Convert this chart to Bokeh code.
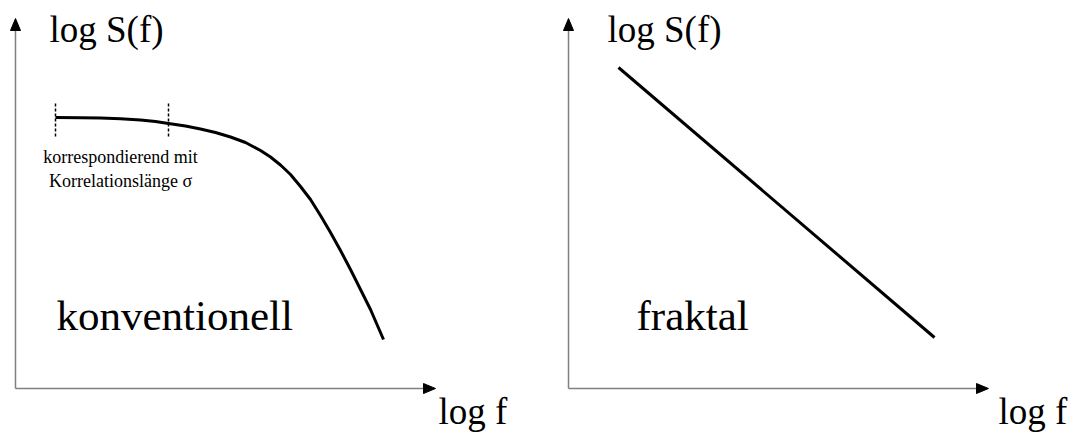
from bokeh.plotting import figure
from bokeh.models import Range1d, Label
from bokeh.embed import file_html
from bokeh.resources import INLINE

W, H = 1071, 432
SERIF = "Liberation Serif"

# Conventional spectrum: flat plateau, then rolling off (log f, log S in sheet units)
conv_log_f = [55, 80, 100, 120, 140, 155, 168, 185, 200, 215, 230, 245, 260, 270,
              280, 290, 300, 310, 320, 330, 340, 350, 360, 370, 383]
conv_log_s = [117, 117.3, 117.6, 118.3, 119.5, 121, 123, 125.5, 128.5, 132, 136.5, 142,
              150, 156.5, 164.5, 174, 186, 199, 215, 232, 250, 269, 289, 309, 339]

# Fractal spectrum: straight power law
frac_log_f = [618, 934]
frac_log_s = [67, 337]

# Markers bounding the correlation-length region
marker_f = [55, 168]
marker_top = [103, 103]
marker_bottom = [138, 138]

# Axes of both panels: origin and arrow tips
axis_origin_x = [15, 568]
axis_origin_y = [388, 388]
axis_top_y = [18, 18]
axis_right_x = [435, 988]

HEAD_LEN, HEAD_HALF = 12, 5

p = figure(width=W, height=H, output_backend="svg", toolbar_location=None,
           x_range=Range1d(0, W), y_range=Range1d(H, 0),
           x_axis_location=None, y_axis_location=None, min_border=0)
p.grid.visible = False
p.outline_line_color = None

# Axis shafts (grey) and filled black arrow heads
for ox, oy, ty, rx in zip(axis_origin_x, axis_origin_y, axis_top_y, axis_right_x):
    p.segment(x0=[ox, ox], y0=[oy, oy], x1=[ox, rx - HEAD_LEN], y1=[ty + HEAD_LEN, oy],
              line_color="#808080", line_width=1.5)
    p.patches(xs=[[ox, ox - HEAD_HALF, ox + HEAD_HALF], [rx, rx - HEAD_LEN, rx - HEAD_LEN]],
              ys=[[ty, ty + HEAD_LEN, ty + HEAD_LEN], [oy, oy - HEAD_HALF, oy + HEAD_HALF]],
              fill_color="black", line_color="black", line_width=1)

p.line(conv_log_f, conv_log_s, line_color="black", line_width=3, line_join="round")
p.line(frac_log_f, frac_log_s, line_color="black", line_width=3)

p.segment(x0=marker_f, y0=marker_top, x1=marker_f, y1=marker_bottom,
          line_color="black", line_width=1.5, line_dash="3 2")


def caption(xs, baselines, texts, size, align="left"):
    # the svg text anchor sits a little below the alphabetic line, so lift it
    lift = 0.37 * size
    for x, b, t in zip(xs, baselines, texts):
        p.add_layout(Label(x=x, y=b - lift, text=t, text_font=SERIF,
                           text_font_size=f"{size}px", text_color="black",
                           text_align=align, text_baseline="alphabetic"))


caption([49, 607], [43, 43], ["log S(f)", "log S(f)"], 37)
caption([438, 998], [425, 425], ["log f", "log f"], 37)
caption([56, 636], [331, 331], ["konventionell", "fraktal"], 43)
caption([120, 120], [163, 187], ["korrespondierend mit", "Korrelationslänge σ"], 18, "center")

open("out.html", "w").write(file_html(p, INLINE))
